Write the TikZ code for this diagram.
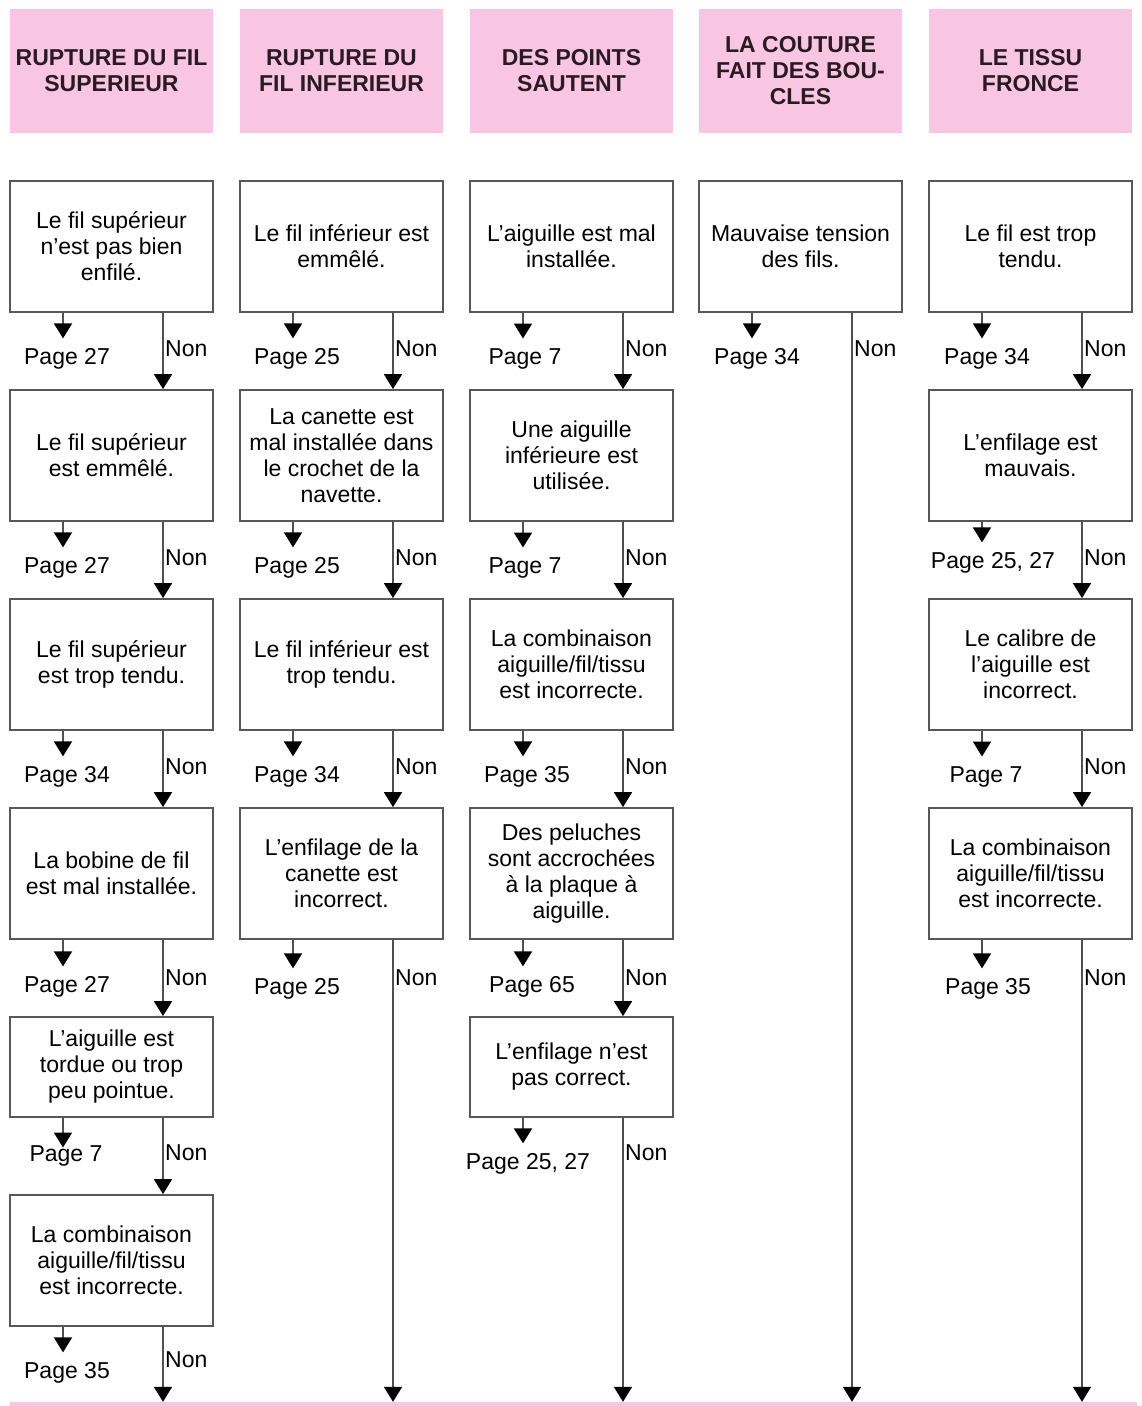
\documentclass[tikz,border=0pt]{standalone}
\usepackage{fontspec}
\setmainfont{Liberation Sans}
\usepackage{tikz}
\usetikzlibrary{arrows.meta}

\definecolor{HeadPink}{RGB}{248,198,226}
\definecolor{HeadText}{RGB}{42,26,36}
\definecolor{BoxGray}{RGB}{88,88,88}
\definecolor{LineGray}{RGB}{80,80,80}
\newcommand{\bodyfont}{\fontsize{23}{26}\selectfont}

\begin{document}
\begin{tikzpicture}[x=1pt,y=-1pt]
			\tikzstyle{Head}	= [fill=HeadPink, text=HeadText, font=\bfseries\bodyfont, align=center, minimum width=203pt, minimum height=124pt, inner sep=0pt]
			\tikzstyle{Box}		= [draw=BoxGray, line width=1.8pt, fill=white, font=\bodyfont, align=center, minimum width=203pt, minimum height=131pt, inner sep=0pt]
			\tikzstyle{Short}	= [minimum height=100pt]
			\tikzstyle{Page}	= [font=\bodyfont, inner sep=0pt]
			\tikzstyle{Non}		= [font=\bodyfont, anchor=west, inner xsep=2pt, inner ysep=0pt]
			\tikzstyle{Bar}		= [fill=HeadPink, minimum width=1127pt, minimum height=4pt, inner sep=0pt]
			\tikzstyle{NonLine}	= [draw=LineGray, line width=1.8pt, -{Triangle[width=18pt,length=15pt,black]}]
			\tikzstyle{Stub}	= [NonLine, shorten >=10pt]

			\useasboundingbox (0,0) rectangle (1142,1406);

			% headers
			\node (h1) at (111.5,71) [Head] {RUPTURE DU FIL\\SUPERIEUR};
			\node (h2) at (341.5,71) [Head] {RUPTURE DU\\FIL INFERIEUR};
			\node (h3) at (571.5,71) [Head] {DES POINTS\\SAUTENT};
			\node (h4) at (800.5,71) [Head] {LA COUTURE\\FAIT DES BOU-\\CLES};
			\node (h5) at (1030.5,71) [Head] {LE TISSU\\FRONCE};

			\node (bar) at (573.5,1404) [Bar] {};

			% column 1
			\node (v11) at (111.5,246.5) [Box] {Le fil supérieur\\n'est pas bien\\enfilé.};
			\node (v12) at (111.5,455.5) [Box] {Le fil supérieur\\est emmêlé.};
			\node (v13) at (111.5,664.5) [Box] {Le fil supérieur\\est trop tendu.};
			\node (v14) at (111.5,873.5) [Box] {La bobine de fil\\est mal installée.};
			\node (v15) at (111.5,1067) [Box][Short] {L’aiguille est\\tordue ou trop\\peu pointue.};
			\node (v16) at (111.5,1260.5) [Box] {La combinaison\\aiguille/fil/tissu\\est incorrecte.};
			\node (p11) at (67,359) [Page] {Page 27};
			\node (p12) at (67,568) [Page] {Page 27};
			\node (p13) at (67,777) [Page] {Page 34};
			\node (p14) at (67,987) [Page] {Page 27};
			\node (p15) at (66,1156) [Page] {Page 7};
			\node (p16) at (67,1373) [Page] {Page 35};
			\node (n11) at (163,349) [Non] {Non};
			\node (n12) at (163,558) [Non] {Non};
			\node (n13) at (163,767) [Non] {Non};
			\node (n14) at (163,978) [Non] {Non};
			\node (n15) at (163,1153) [Non] {Non};
			\node (n16) at (163,1360) [Non] {Non};

			% column 2
			\node (v21) at (341.5,246.5) [Box] {Le fil inférieur est\\emmêlé.};
			\node (v22) at (341.5,455.5) [Box] {La canette est\\mal installée dans\\le crochet de la\\navette.};
			\node (v23) at (341.5,664.5) [Box] {Le fil inférieur est\\trop tendu.};
			\node (v24) at (341.5,873.5) [Box] {L’enfilage de la\\canette est\\incorrect.};
			\node (p21) at (297,359) [Page] {Page 25};
			\node (p22) at (297,568) [Page] {Page 25};
			\node (p23) at (297,777) [Page] {Page 34};
			\node (p24) at (297,989) [Page] {Page 25};
			\node (n21) at (393,349) [Non] {Non};
			\node (n22) at (393,558) [Non] {Non};
			\node (n23) at (393,767) [Non] {Non};
			\node (n24) at (393,978) [Non] {Non};

			% column 3
			\node (v31) at (571.5,246.5) [Box] {L’aiguille est mal\\installée.};
			\node (v32) at (571.5,455.5) [Box] {Une aiguille\\inférieure est\\utilisée.};
			\node (v33) at (571.5,664.5) [Box] {La combinaison\\aiguille/fil/tissu\\est incorrecte.};
			\node (v34) at (571.5,873.5) [Box] {Des peluches\\sont accrochées\\à la plaque à\\aiguille.};
			\node (v35) at (571.5,1067) [Box][Short] {L’enfilage n’est\\pas correct.};
			\node (p31) at (525,359) [Page] {Page 7};
			\node (p32) at (525,568) [Page] {Page 7};
			\node (p33) at (527,777) [Page] {Page 35};
			\node (p34) at (532,987) [Page] {Page 65};
			\node (p35) at (528,1164) [Page] {Page 25, 27};
			\node (n31) at (623,349) [Non] {Non};
			\node (n32) at (623,558) [Non] {Non};
			\node (n33) at (623,767) [Non] {Non};
			\node (n34) at (623,978) [Non] {Non};
			\node (n35) at (623,1153) [Non] {Non};

			% column 4
			\node (v41) at (800.5,246.5) [Box] {Mauvaise tension\\des fils.};
			\node (p41) at (757,359) [Page] {Page 34};
			\node (n41) at (852,349) [Non] {Non};

			% column 5
			\node (v51) at (1030.5,246.5) [Box] {Le fil est trop\\tendu.};
			\node (v52) at (1030.5,455.5) [Box] {L’enfilage est\\mauvais.};
			\node (v53) at (1030.5,664.5) [Box] {Le calibre de\\l’aiguille est\\incorrect.};
			\node (v54) at (1030.5,873.5) [Box] {La combinaison\\aiguille/fil/tissu\\est incorrecte.};
			\node (p51) at (987,359) [Page] {Page 34};
			\node (p52) at (993,563) [Page] {Page 25, 27};
			\node (p53) at (986,777) [Page] {Page 7};
			\node (p54) at (988,989) [Page] {Page 35};
			\node (n51) at (1082,349) [Non] {Non};
			\node (n52) at (1082,558) [Non] {Non};
			\node (n53) at (1082,767) [Non] {Non};
			\node (n54) at (1082,978) [Non] {Non};

			% page stubs
			\draw (v11.south -| 63,0) to (p11.north -| 63,0) [Stub];
			\draw (v12.south -| 63,0) to (p12.north -| 63,0) [Stub];
			\draw (v13.south -| 63,0) to (p13.north -| 63,0) [Stub];
			\draw (v14.south -| 63,0) to (p14.north -| 63,0) [Stub];
			\draw (v15.south -| 63,0) to (p15.north -| 63,0) [Stub, shorten >=-2pt];
			\draw (v16.south -| 63,0) to (p16.north -| 63,0) [Stub];
			\draw (v21.south -| 293,0) to (p21.north -| 293,0) [Stub];
			\draw (v22.south -| 293,0) to (p22.north -| 293,0) [Stub];
			\draw (v23.south -| 293,0) to (p23.north -| 293,0) [Stub];
			\draw (v24.south -| 293,0) to (p24.north -| 293,0) [Stub];
			\draw (v31.south -| 523,0) to (p31.north -| 523,0) [Stub];
			\draw (v32.south -| 523,0) to (p32.north -| 523,0) [Stub];
			\draw (v33.south -| 523,0) to (p33.north -| 523,0) [Stub];
			\draw (v34.south -| 523,0) to (p34.north -| 523,0) [Stub];
			\draw (v35.south -| 523,0) to (p35.north -| 523,0) [Stub];
			\draw (v41.south -| 752,0) to (p41.north -| 752,0) [Stub];
			\draw (v51.south -| 982,0) to (p51.north -| 982,0) [Stub];
			\draw (v52.south -| 982,0) to (p52.north -| 982,0) [Stub];
			\draw (v53.south -| 982,0) to (p53.north -| 982,0) [Stub];
			\draw (v54.south -| 982,0) to (p54.north -| 982,0) [Stub];

			% Non connectors
			\draw (v11.south -| n11.west) to (v12.north -| n11.west) [NonLine];
			\draw (v12.south -| n12.west) to (v13.north -| n12.west) [NonLine];
			\draw (v13.south -| n13.west) to (v14.north -| n13.west) [NonLine];
			\draw (v14.south -| n14.west) to (v15.north -| n14.west) [NonLine];
			\draw (v15.south -| n15.west) to (v16.north -| n15.west) [NonLine];
			\draw (v16.south -| n16.west) to (bar.north -| n16.west) [NonLine];
			\draw (v21.south -| n21.west) to (v22.north -| n21.west) [NonLine];
			\draw (v22.south -| n22.west) to (v23.north -| n22.west) [NonLine];
			\draw (v23.south -| n23.west) to (v24.north -| n23.west) [NonLine];
			\draw (v24.south -| n24.west) to (bar.north -| n24.west) [NonLine];
			\draw (v31.south -| n31.west) to (v32.north -| n31.west) [NonLine];
			\draw (v32.south -| n32.west) to (v33.north -| n32.west) [NonLine];
			\draw (v33.south -| n33.west) to (v34.north -| n33.west) [NonLine];
			\draw (v34.south -| n34.west) to (v35.north -| n34.west) [NonLine];
			\draw (v35.south -| n35.west) to (bar.north -| n35.west) [NonLine];
			\draw (v41.south -| n41.west) to (bar.north -| n41.west) [NonLine];
			\draw (v51.south -| n51.west) to (v52.north -| n51.west) [NonLine];
			\draw (v52.south -| n52.west) to (v53.north -| n52.west) [NonLine];
			\draw (v53.south -| n53.west) to (v54.north -| n53.west) [NonLine];
			\draw (v54.south -| n54.west) to (bar.north -| n54.west) [NonLine];
		\end{tikzpicture}
\end{document}
